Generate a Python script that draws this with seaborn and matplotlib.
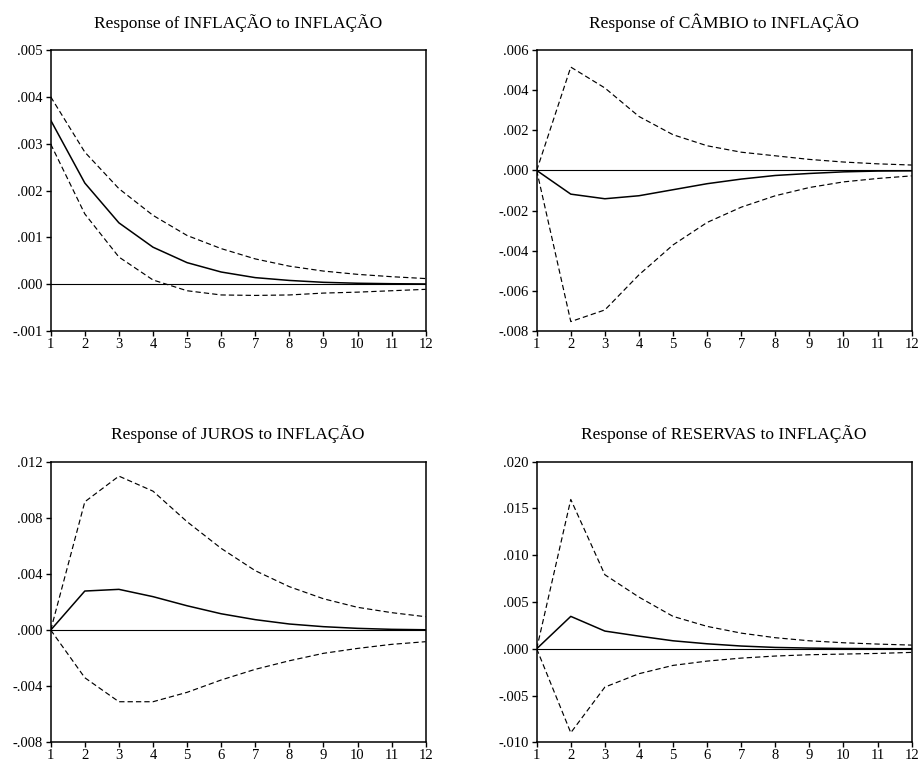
import matplotlib
matplotlib.use("Agg")
import matplotlib.pyplot as plt
from matplotlib.ticker import FuncFormatter, FixedLocator
import numpy as np
import pandas as pd
import seaborn as sns

# Impulse responses to an INFLAÇÃO shock, with +/- 2 S.E. bands
periods = list(range(1, 13))

titles = [
    "Response of INFLAÇÃO to INFLAÇÃO",
    "Response of CÂMBIO to INFLAÇÃO",
    "Response of JUROS to INFLAÇÃO",
    "Response of RESERVAS to INFLAÇÃO",
]

inflacao_resp = [0.00350, 0.00216, 0.00131, 0.00079, 0.00046, 0.00026,
                 0.00014, 0.00008, 0.00004, 0.00002, 0.00001, 0.000005]
inflacao_upper = [0.00400, 0.00282, 0.00204, 0.00147, 0.00104, 0.00076,
                  0.00054, 0.000385, 0.00028, 0.00021, 0.00016, 0.00012]
inflacao_lower = [0.00299, 0.00150, 0.00058, 0.00009, -0.00014, -0.00023,
                  -0.00024, -0.00023, -0.00019, -0.00017, -0.00014, -0.00011]

cambio_resp = [0.0, -0.00118, -0.00141, -0.00126, -0.00096, -0.00066,
               -0.00043, -0.00025, -0.00015, -0.00007, -0.00003, -0.00002]
cambio_upper = [0.0, 0.00515, 0.00411, 0.00269, 0.00178, 0.00123,
                0.00091, 0.00073, 0.00055, 0.00042, 0.00033, 0.00027]
cambio_lower = [0.0, -0.00753, -0.00695, -0.00520, -0.00371, -0.00259,
                -0.00183, -0.00126, -0.00085, -0.00057, -0.00040, -0.00027]

juros_resp = [0.0, 0.00278, 0.00290, 0.00238, 0.00173, 0.00116,
              0.00074, 0.00043, 0.00024, 0.00012, 0.00005, 0.00002]
juros_upper = [0.0, 0.00914, 0.01097, 0.00990, 0.00772, 0.00582,
               0.00423, 0.00309, 0.00223, 0.00162, 0.00124, 0.00095]
juros_lower = [0.0, -0.00340, -0.00511, -0.00511, -0.00444, -0.00356,
               -0.00280, -0.00219, -0.00166, -0.00131, -0.00102, -0.00083]

reservas_resp = [0.0, 0.00346, 0.00189, 0.00135, 0.00085, 0.00053,
                 0.00029, 0.00014, 0.00007, 0.00003, 0.00001, 0.000005]
reservas_upper = [0.0, 0.01596, 0.00791, 0.00552, 0.00346, 0.00239,
                  0.00167, 0.00118, 0.00085, 0.00064, 0.00050, 0.00039]
reservas_lower = [0.0, -0.00898, -0.00410, -0.00267, -0.00178, -0.00132,
                  -0.00100, -0.00078, -0.00064, -0.00057, -0.00050, -0.00039]

responses = [inflacao_resp, cambio_resp, juros_resp, reservas_resp]
uppers = [inflacao_upper, cambio_upper, juros_upper, reservas_upper]
lowers = [inflacao_lower, cambio_lower, juros_lower, reservas_lower]

y_ticks = [
    [-0.001, 0.000, 0.001, 0.002, 0.003, 0.004, 0.005],
    [-0.008, -0.006, -0.004, -0.002, 0.000, 0.002, 0.004, 0.006],
    [-0.008, -0.004, 0.000, 0.004, 0.008, 0.012],
    [-0.010, -0.005, 0.000, 0.005, 0.010, 0.015, 0.020],
]

sns.set_theme(style="ticks")
plt.rcParams["font.family"] = ["Liberation Serif", "DejaVu Serif"]
plt.rcParams["axes.linewidth"] = 1.1
plt.rcParams["xtick.major.width"] = 1.0
plt.rcParams["ytick.major.width"] = 1.0
plt.rcParams["xtick.major.size"] = 3.6
plt.rcParams["ytick.major.size"] = 3.6
plt.rcParams["xtick.color"] = "black"
plt.rcParams["ytick.color"] = "black"
plt.rcParams["axes.edgecolor"] = "black"


def fmt_tick(v, _pos):
    s = f"{v:.3f}"
    if abs(v) < 5e-7:
        return ".000"
    return s.replace("0.", ".", 1)


fig = plt.figure(figsize=(9.19, 7.65), dpi=100)

positions = [
    (0.0552, 0.5673, 0.4080, 0.3673),
    (0.5840, 0.5673, 0.4080, 0.3673),
    (0.0552, 0.0297, 0.4080, 0.3668),
    (0.5840, 0.0297, 0.4080, 0.3668),
]

band_style = (0, (4.5, 2.6))

for i in range(4):
    ax = fig.add_axes(positions[i])
    df = pd.DataFrame({
        "period": periods,
        "resp": responses[i],
        "upper": uppers[i],
        "lower": lowers[i],
    })
    ax.axhline(0, color="black", lw=0.8, zorder=1)
    sns.lineplot(data=df, x="period", y="upper", ax=ax, color="black",
                 lw=0.85, linestyle=band_style, errorbar=None)
    sns.lineplot(data=df, x="period", y="lower", ax=ax, color="black",
                 lw=0.85, linestyle=band_style, errorbar=None)
    sns.lineplot(data=df, x="period", y="resp", ax=ax, color="black",
                 lw=1.1, errorbar=None)

    ax.set_xlim(1, 12)
    ax.set_ylim(y_ticks[i][0], y_ticks[i][-1])
    ax.xaxis.set_major_locator(FixedLocator(periods))
    ax.yaxis.set_major_locator(FixedLocator(y_ticks[i]))
    ax.yaxis.set_major_formatter(FuncFormatter(fmt_tick))
    ax.set_xlabel("")
    ax.set_ylabel("")
    ax.tick_params(axis="both", direction="out", labelsize=10.5,
                   labelcolor="black")
    ax.tick_params(axis="x", pad=1.5)
    ax.tick_params(axis="y", pad=2)
    for side in ["top", "right", "bottom", "left"]:
        ax.spines[side].set_visible(True)
        ax.spines[side].set_linewidth(1.1)
        ax.spines[side].set_color("black")
    ax.set_title(titles[i], fontsize=12.5, pad=16, color="black")

fig.savefig("out.png", dpi=100)
